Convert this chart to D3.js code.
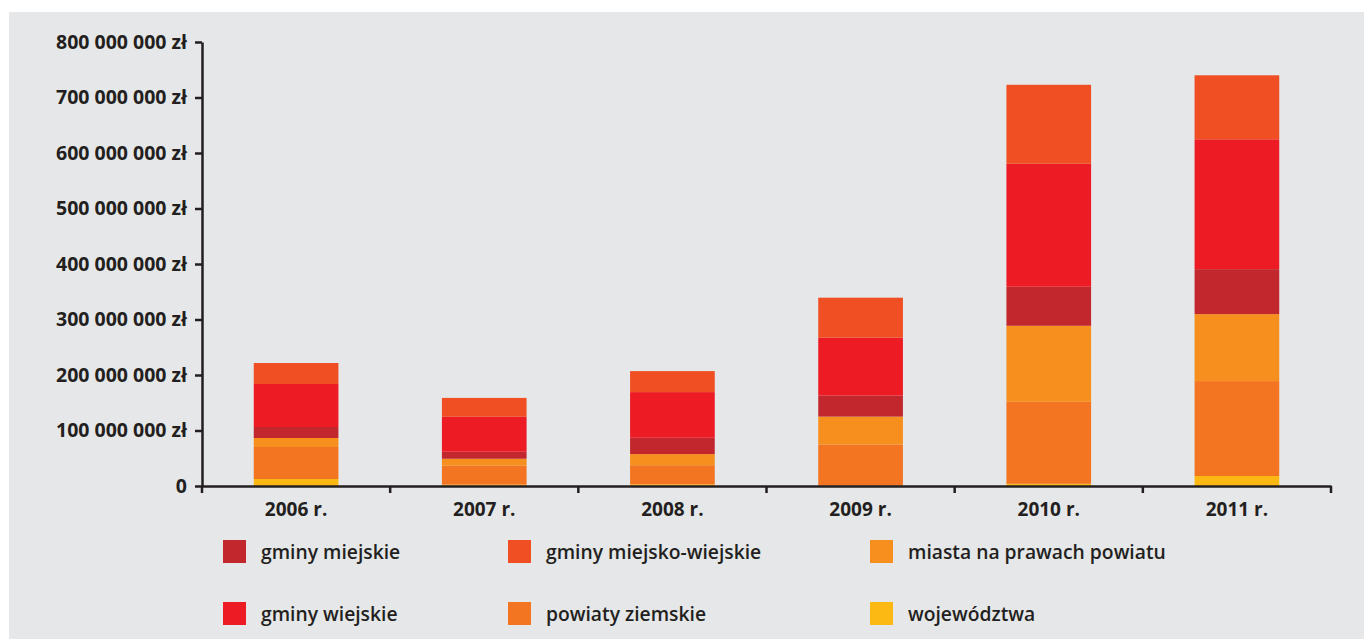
<!DOCTYPE html>
<html>
<head>
<meta charset="utf-8">
<script src="https://cdn.jsdelivr.net/npm/d3@7"></script>
<style>
  html, body { margin: 0; padding: 0; background: #ffffff; }
  svg { display: block; }
  text { font-family: "Open Sans", "Noto Sans", sans-serif; fill: #231f20; }
</style>
</head>
<body>
<script>
// Years on the category axis
const years = ["2006 r.", "2007 r.", "2008 r.", "2009 r.", "2010 r.", "2011 r."];

// Amounts per recipient group, in millions of zł (stacked bottom to top)
const wojewodztwa         = [12.6, 2.5, 3.0, 0.6, 4.0, 18.0];
const powiatyZiemskie     = [57.7, 34.0, 34.5, 73.9, 147.7, 171.0];
const miastaNaPrawach     = [16.2, 12.6, 20.0, 50.5, 137.0, 120.7];
const gminyMiejskie       = [19.8, 12.6, 29.4, 37.8, 70.3, 81.0];
const gminyWiejskie       = [77.5, 63.0, 82.3, 104.5, 221.6, 234.0];
const gminyMiejskoWiejskie = [37.8, 34.0, 37.8, 72.0, 142.3, 115.3];

// Y axis tick values (zł)
const yTicks = [0, 100e6, 200e6, 300e6, 400e6, 500e6, 600e6, 700e6, 800e6];

const seriesKeys = ["wojewodztwa", "powiaty", "miasta", "miejskie", "wiejskie", "miejskoWiejskie"];
const seriesValues = {
  wojewodztwa: wojewodztwa,
  powiaty: powiatyZiemskie,
  miasta: miastaNaPrawach,
  miejskie: gminyMiejskie,
  wiejskie: gminyWiejskie,
  miejskoWiejskie: gminyMiejskoWiejskie
};
const seriesNames = {
  miejskie: "gminy miejskie",
  miejskoWiejskie: "gminy miejsko-wiejskie",
  miasta: "miasta na prawach powiatu",
  wiejskie: "gminy wiejskie",
  powiaty: "powiaty ziemskie",
  wojewodztwa: "województwa"
};
const colors = {
  wojewodztwa: "#fdb913",
  powiaty: "#f37421",
  miasta: "#f68f1e",
  miejskie: "#c1272d",
  wiejskie: "#ed1c24",
  miejskoWiejskie: "#f04e23"
};
const legendOrder = [["miejskie", "miejskoWiejskie", "miasta"], ["wiejskie", "powiaty", "wojewodztwa"]];

const W = 1364, H = 639;
const svg = d3.select("body").append("svg").attr("width", W).attr("height", H);

// Grey panel
svg.append("rect").attr("x", 9).attr("y", 12).attr("width", W - 9).attr("height", H - 12)
  .attr("fill", "#e6e7e8");

const plotLeft = 202, plotRight = 1331, plotTop = 42, plotBottom = 486;

const table = years.map((yr, i) => {
  const row = { year: yr };
  seriesKeys.forEach(k => { row[k] = seriesValues[k][i] * 1e6; });
  return row;
});
const stacked = d3.stack().keys(seriesKeys)(table);

const x = d3.scaleBand().domain(years).range([plotLeft, plotRight])
  .paddingInner(0.55).paddingOuter(0.275);
const y = d3.scaleLinear().domain([0, 800e6]).range([plotBottom, plotTop]);

// Bars
svg.append("g").selectAll("g").data(stacked).join("g")
  .attr("fill", d => colors[d.key])
  .selectAll("rect").data(d => d).join("rect")
  .attr("x", d => x(d.data.year))
  .attr("width", x.bandwidth())
  .attr("y", d => y(d[1]))
  .attr("height", d => y(d[0]) - y(d[1]));

const axisColor = "#231f20";
const fmt = v => v === 0 ? "0" : d3.format(",")(v).replace(/,/g, " ") + " zł";

// Y axis
const yAxis = svg.append("g").attr("transform", `translate(${plotLeft},0)`)
  .call(d3.axisLeft(y).tickValues(yTicks).tickFormat(fmt).tickSize(7).tickPadding(8).tickSizeOuter(0));
yAxis.select(".domain").attr("stroke", axisColor).attr("stroke-width", 2.5);
yAxis.selectAll(".tick line").attr("stroke", axisColor).attr("stroke-width", 2.5);
yAxis.selectAll(".tick text").style("font-size", "19.5px").style("font-weight", 700)
  .attr("fill", axisColor);

// X axis: labels centred on bars, ticks on category boundaries
const xAxis = svg.append("g").attr("transform", `translate(0,${plotBottom})`)
  .call(d3.axisBottom(x).tickSize(0).tickPadding(17).tickSizeOuter(0));
xAxis.select(".domain").attr("stroke", axisColor).attr("stroke-width", 2.5);
xAxis.selectAll(".tick text").style("font-size", "19px").style("font-weight", 700)
  .attr("fill", axisColor);

const boundaries = d3.range(years.length + 1).map(i => plotLeft + i * x.step());
svg.append("g").selectAll("line").data(boundaries).join("line")
  .attr("x1", d => d).attr("x2", d => d)
  .attr("y1", plotBottom).attr("y2", plotBottom + 7)
  .attr("stroke", axisColor).attr("stroke-width", 2.5);

// Legend
const colX = [223, 508, 870];
const rowY = [540, 602];
const legend = svg.append("g");
legendOrder.forEach((row, r) => {
  row.forEach((key, c) => {
    legend.append("rect").attr("x", colX[c]).attr("y", rowY[r])
      .attr("width", 23).attr("height", 23).attr("fill", colors[key]);
    legend.append("text").attr("x", colX[c] + 38).attr("y", rowY[r] + 12)
      .attr("dy", "0.35em")
      .style("font-size", "19.3px").style("font-weight", 600)
      .text(seriesNames[key]);
  });
});
</script>
</body>
</html>
